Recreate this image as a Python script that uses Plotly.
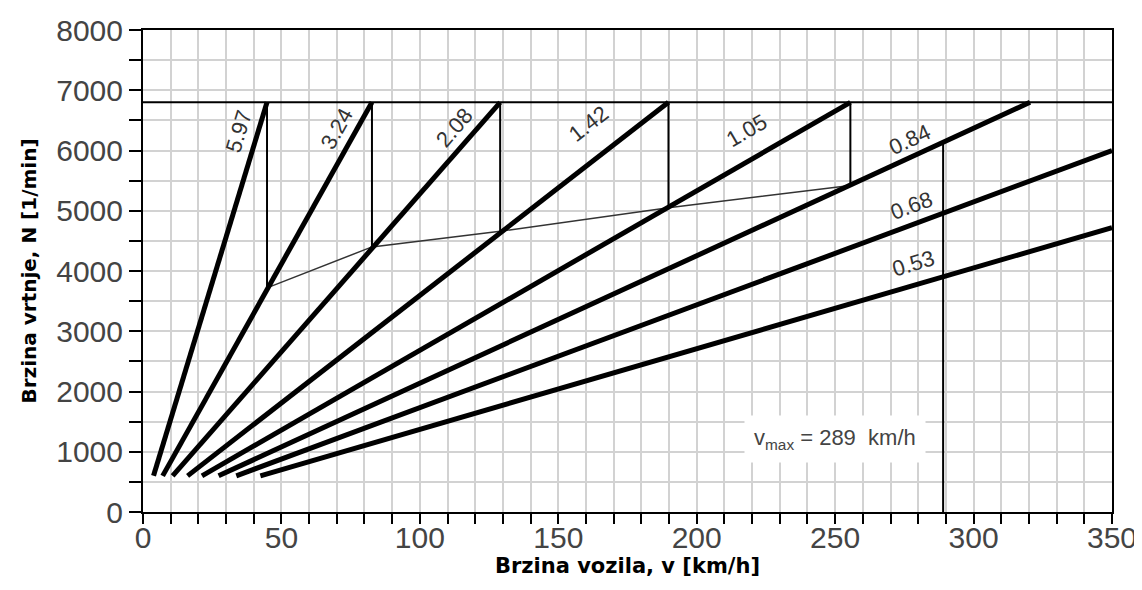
import plotly.graph_objects as go

# ---- data ----
gear_labels = ["5.97", "3.24", "2.08", "1.42", "1.05", "0.84", "0.68", "0.53"]
v_start = [3.8, 7.1, 10.7, 16.1, 21.3, 27.3, 33.7, 42.4]          # km/h
n_start = [600, 600, 600, 600, 600, 600, 600, 600]               # 1/min
v_end = [44.8, 82.7, 129.0, 189.8, 255.5, 320.4, 350.0, 350.0]    # km/h
n_end = [6800, 6800, 6800, 6800, 6800, 6800, 6000, 4720]         # 1/min

shift_v = [44.8, 82.7, 129.0, 189.8, 255.5]                      # km/h
shift_n_low = [3720, 4400, 4660, 5050, 5420]                     # 1/min
n_limit = 6800
v_max = 289
n_at_vmax = 6120

label_v = [34.5, 70.0, 112.5, 161.0, 218.0, 277.0, 277.7, 278.3]
label_n = [6320, 6370, 6380, 6450, 6340, 6190, 5090, 4120]
label_angle = [-73, -61, -49, -38, -30, -25, -20.5, -16.5]

x_tick_vals = list(range(0, 351, 10))
x_tick_text = [str(v) if v % 50 == 0 else " " for v in x_tick_vals]
y_tick_vals = list(range(0, 8001, 500))
y_tick_text = [str(v) if v % 1000 == 0 else " " for v in y_tick_vals]

fig = go.Figure()

# limit speed line
fig.add_trace(go.Scatter(x=[0, 350], y=[n_limit, n_limit], mode="lines",
                         line=dict(color="black", width=2), hoverinfo="skip"))
# shift drop lines
for v, nl in zip(shift_v, shift_n_low):
    fig.add_trace(go.Scatter(x=[v, v], y=[n_limit, nl], mode="lines",
                             line=dict(color="black", width=2), hoverinfo="skip"))
# connecting thin line
fig.add_trace(go.Scatter(x=shift_v, y=shift_n_low, mode="lines",
                         line=dict(color="#333333", width=1.5), hoverinfo="skip"))
# vmax line
fig.add_trace(go.Scatter(x=[v_max, v_max], y=[0, n_at_vmax], mode="lines",
                         line=dict(color="black", width=2), hoverinfo="skip"))
# gear lines
for i in range(len(gear_labels)):
    fig.add_trace(go.Scatter(x=[v_start[i], v_end[i]], y=[n_start[i], n_end[i]],
                             mode="lines", line=dict(color="black", width=5),
                             hoverinfo="skip"))

for lab, lv, ln, ang in zip(gear_labels, label_v, label_n, label_angle):
    fig.add_annotation(x=lv, y=ln, text=lab, showarrow=False, textangle=ang,
                       font=dict(family="Liberation Sans", size=22, color="#333333"))

fig.add_annotation(x=250, y=1210, text="v<sub>max</sub> = 289  km/h", showarrow=False,
                   font=dict(family="Liberation Sans", size=22, color="#444444"),
                   bgcolor="white", borderpad=9)

fig.update_layout(
    width=1134, height=582,
    margin=dict(l=135, r=30, t=22, b=78),
    plot_bgcolor="white", paper_bgcolor="white",
    showlegend=False,
    xaxis=dict(range=[0, 350], tickmode="array", tickvals=x_tick_vals, ticktext=x_tick_text,
               tickangle=0, ticklabelstandoff=-12,
               ticks="outside", ticklen=10, tickwidth=2, tickcolor="black",
               showline=True, linecolor="black", linewidth=2, mirror=True,
               showgrid=True, gridcolor="#d2d2d2", gridwidth=1.5, zeroline=False,
               automargin=False,
               tickfont=dict(family="Liberation Sans", size=30, color="#444444"),
               title=dict(text="<b>Brzina vozila, v [km/h]</b>", standoff=0,
                          font=dict(family="DejaVu Sans", size=21, color="black"))),
    yaxis=dict(range=[0, 8000], tickmode="array", tickvals=y_tick_vals, ticktext=y_tick_text,
               ticks="outside", ticklen=12, tickwidth=2, tickcolor="black",
               showline=True, linecolor="black", linewidth=2, mirror=True,
               showgrid=True, gridcolor="#d2d2d2", gridwidth=1.5, zeroline=False,
               automargin=False,
               tickfont=dict(family="Liberation Sans", size=30, color="#444444"),
               title=dict(text="<b>Brzina vrtnje, N [1/min]</b>", standoff=14,
                          font=dict(family="DejaVu Sans", size=20, color="black"))),
)

fig.write_html("out.html")
